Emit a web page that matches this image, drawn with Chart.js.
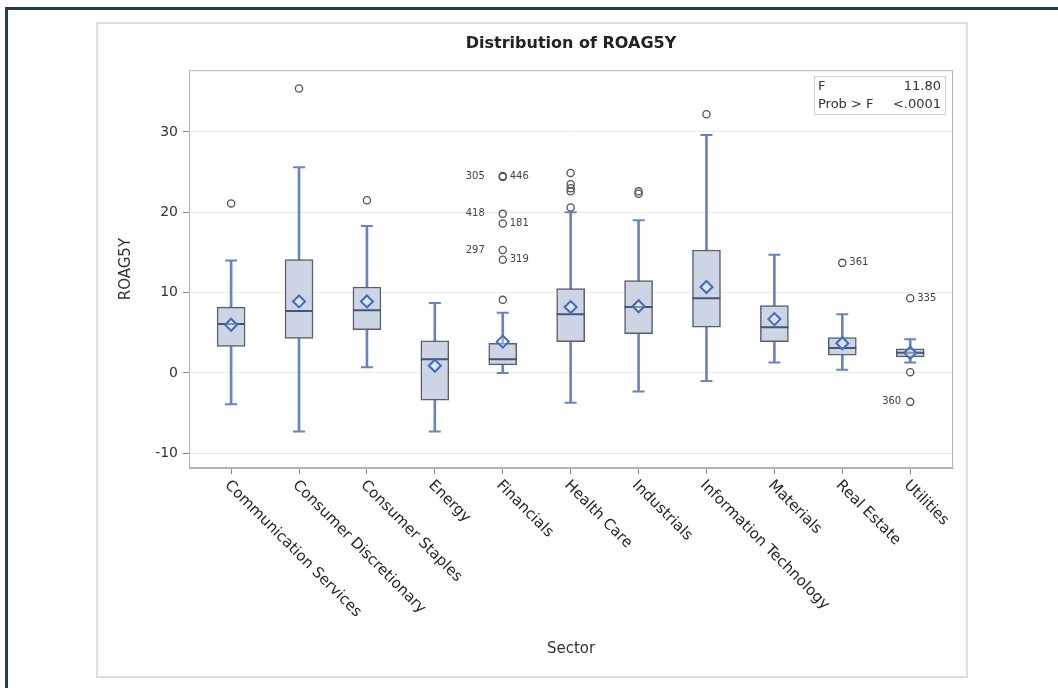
<!DOCTYPE html>
<html lang="en">
<head>
<meta charset="UTF-8">
<title>Distribution of ROAG5Y</title>
<script src="https://cdn.jsdelivr.net/npm/chart.js"></script>
<style>
  html, body { margin: 0; padding: 0; background: #fff; }
  canvas { display: block; }
</style>
</head>
<body>
<canvas id="boxChart" width="1058" height="688"></canvas>
<script>
// box plot summary per sector
const sectors = ['Communication Services', 'Consumer Discretionary', 'Consumer Staples', 'Energy',
  'Financials', 'Health Care', 'Industrials', 'Information Technology', 'Materials', 'Real Estate', 'Utilities'];
const whiskerLow  = [-3.9, -7.3, 0.7, -7.3, 0.0, -3.7, -2.3, -1.0, 1.3, 0.4, 1.3];
const q1          = [3.3, 4.3, 5.4, -3.4, 1.0, 3.9, 4.9, 5.7, 3.9, 2.2, 2.0];
const medians     = [6.1, 7.7, 7.8, 1.7, 1.7, 7.3, 8.2, 9.3, 5.7, 3.1, 2.5];
const q3          = [8.2, 14.1, 10.7, 4.0, 3.7, 10.5, 11.5, 15.3, 8.4, 4.4, 3.0];
const whiskerHigh = [14.0, 25.6, 18.3, 8.7, 7.5, 20.0, 19.0, 29.6, 14.7, 7.3, 4.2];
const means       = [6.0, 8.9, 8.9, 0.9, 3.9, 8.2, 8.3, 10.7, 6.7, 3.7, 2.5];

// outliers: sector index + value
const outlierSector = [0, 1, 2, 4, 4, 4, 4, 4, 4, 4, 5, 5, 5, 5, 5, 6, 6, 7, 9, 10, 10, 10];
const outlierValue  = [21.1, 35.4, 21.5, 9.1, 24.5, 24.4, 19.8, 18.6, 15.3, 14.1,
  24.9, 23.5, 23.0, 22.6, 20.6, 22.3, 22.6, 32.2, 13.7, 9.3, 0.1, -3.6];

// observation ids printed next to some outliers
const outlierLabels = [
  { sector: 4, value: 24.5, text: '305', side: 'left' },
  { sector: 4, value: 24.5, text: '446', side: 'right' },
  { sector: 4, value: 19.8, text: '418', side: 'left' },
  { sector: 4, value: 18.6, text: '181', side: 'right' },
  { sector: 4, value: 15.3, text: '297', side: 'left' },
  { sector: 4, value: 14.1, text: '319', side: 'right' },
  { sector: 9, value: 13.7, text: '361', side: 'right' },
  { sector: 10, value: 9.3, text: '335', side: 'right' },
  { sector: 10, value: -3.6, text: '360', side: 'left' }
];

const yTicks = [-10, 0, 10, 20, 30];
const statRows = [['F', '11.80'], ['Prob > F', '<.0001']];

const FONT = '"DejaVu Sans", "Liberation Sans", sans-serif';
const BLUE = '#6585c2';
const TEXT = '#333333';

const pts = (vals, cats) => vals.map((v, i) => ({ x: cats ? cats[i] : i, y: v }));

const decorPlugin = {
  id: 'decor',
  beforeDraw(chart) {
    const ctx = chart.ctx;
    ctx.save();
    ctx.fillStyle = '#ffffff';
    ctx.fillRect(0, 0, chart.width, chart.height);
    // grey panel behind the graph
    ctx.strokeStyle = '#dfdfdf';
    ctx.lineWidth = 2;
    ctx.strokeRect(97, 23, 870, 654);
    // dark page frame (runs off right/bottom)
    ctx.strokeStyle = '#17405d';
    ctx.lineWidth = 3;
    ctx.strokeRect(6.5, 8.5, chart.width + 20, chart.height + 20);
    ctx.restore();
  },
  afterDraw(chart) {
    const ctx = chart.ctx;
    const area = chart.chartArea;
    const x = chart.scales.x, y = chart.scales.y;
    ctx.save();

    // plot frame
    ctx.strokeStyle = '#b4b4b4';
    ctx.lineWidth = 1;
    ctx.strokeRect(area.left + 0.5, area.top + 0.5, area.right - area.left - 1, area.bottom - area.top - 1);

    // rotated category labels
    ctx.font = '15px ' + FONT;
    ctx.fillStyle = '#262626';
    ctx.textAlign = 'left';
    ctx.textBaseline = 'middle';
    sectors.forEach((name, i) => {
      const px = x.getPixelForValue(i);
      ctx.save();
      ctx.translate(px - 4, area.bottom + 15);
      ctx.rotate(Math.PI / 4);
      ctx.fillText(name, 0, 0);
      ctx.restore();
    });

    // outlier id labels
    ctx.font = '10px ' + FONT;
    ctx.fillStyle = '#444';
    outlierLabels.forEach(l => {
      const px = x.getPixelForValue(l.sector);
      const py = y.getPixelForValue(l.value);
      if (l.side === 'left') {
        ctx.textAlign = 'right';
        ctx.fillText(l.text, px - (l.sector === 4 ? 18 : 9), py);
      } else {
        ctx.textAlign = 'left';
        ctx.fillText(l.text, px + 7, py);
      }
    });

    // F statistic inset
    const bw = 131, bh = 38;
    const bx = area.right - 8 - bw, by = area.top + 6;
    ctx.strokeStyle = '#cfcfcf';
    ctx.strokeRect(bx + 0.5, by + 0.5, bw, bh);
    ctx.font = '13px ' + FONT;
    ctx.fillStyle = TEXT;
    statRows.forEach((row, r) => {
      const ty = by + 10 + r * 18;
      ctx.textAlign = 'left';
      ctx.fillText(row[0], bx + 4, ty);
      ctx.textAlign = 'right';
      ctx.fillText(row[1], bx + bw - 4, ty);
    });
    ctx.restore();
  }
};

new Chart(document.getElementById('boxChart'), {
  type: 'bar',
  data: {
    datasets: [
      {
        // whisker stems
        type: 'bar',
        data: whiskerLow.map((v, i) => ({ x: i, y: [v, whiskerHigh[i]] })),
        backgroundColor: BLUE,
        borderWidth: 0,
        barThickness: 2,
        grouped: false,
        order: 5
      },
      {
        // whisker caps
        type: 'scatter',
        data: pts(whiskerHigh).concat(pts(whiskerLow)),
        pointStyle: 'line',
        pointRadius: 6,
        borderColor: BLUE,
        borderWidth: 2,
        order: 4
      },
      {
        // interquartile boxes
        type: 'bar',
        data: q1.map((v, i) => ({ x: i, y: [v, q3[i]] })),
        backgroundColor: '#cdd5e4',
        borderColor: '#55606f',
        borderWidth: 1.5,
        borderSkipped: false,
        barThickness: 28,
        grouped: false,
        order: 3
      },
      {
        // medians
        type: 'scatter',
        data: pts(medians),
        pointStyle: 'line',
        pointRadius: 14,
        borderColor: '#465573',
        borderWidth: 2,
        order: 2
      },
      {
        // means
        type: 'scatter',
        data: pts(means),
        pointStyle: 'rectRot',
        pointRadius: 6,
        borderColor: '#3f6bc0',
        backgroundColor: 'rgba(255,255,255,0.35)',
        borderWidth: 2,
        order: 1
      },
      {
        // outliers
        type: 'scatter',
        data: pts(outlierValue, outlierSector),
        pointStyle: 'circle',
        pointRadius: 3.6,
        borderColor: '#555555',
        backgroundColor: 'rgba(255,255,255,0)',
        borderWidth: 1.3,
        order: 0
      }
    ]
  },
  options: {
    responsive: false,
    devicePixelRatio: 1,
    animation: false,
    events: [],
    layout: { padding: { left: 113, right: 105, top: 30, bottom: 30 } },
    plugins: {
      legend: { display: false },
      tooltip: { enabled: false },
      title: {
        display: true,
        fullSize: false,
        text: 'Distribution of ROAG5Y',
        color: '#222',
        font: { family: FONT, size: 16, weight: 'bold' },
        padding: { top: 4, bottom: 17 }
      }
    },
    scales: {
      x: {
        type: 'linear',
        min: -0.62,
        max: 10.63,
        offset: false,
        afterBuildTicks: s => { s.ticks = sectors.map((_, i) => ({ value: i })); },
        afterFit: s => { s.height = 190; },
        ticks: { display: false },
        grid: { offset: false, drawOnChartArea: false, drawTicks: true, tickLength: 6, tickColor: '#8a8a8a' },
        border: { color: '#b4b4b4' },
        title: {
          display: true,
          text: 'Sector',
          color: TEXT,
          font: { family: FONT, size: 15 },
          padding: { top: 0, bottom: 0 }
        }
      },
      y: {
        min: -11.83,
        max: 37.68,
        afterBuildTicks: s => { s.ticks = yTicks.map(v => ({ value: v })); },
        afterFit: s => { s.width = 76; },
        ticks: { color: TEXT, font: { family: FONT, size: 14 }, padding: 5 },
        grid: { color: '#ebebeb', tickLength: 6, tickColor: '#8a8a8a' },
        border: { color: '#b4b4b4' },
        title: {
          display: true,
          text: 'ROAG5Y',
          color: TEXT,
          font: { family: FONT, size: 15 },
          padding: { top: 4, bottom: 0 }
        }
      }
    }
  },
  plugins: [decorPlugin]
});
</script>
</body>
</html>
